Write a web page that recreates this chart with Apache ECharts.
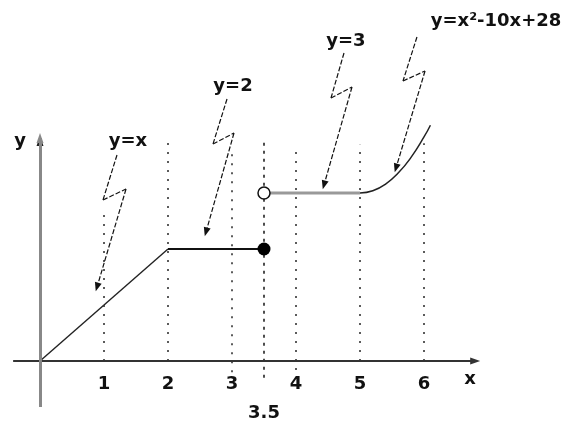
<!DOCTYPE html>
<html>
<head>
<meta charset="utf-8">
<script src="https://cdn.jsdelivr.net/npm/echarts@6/dist/echarts.min.js"></script>
<style>html,body{margin:0;padding:0;background:#fff}#c{width:569px;height:423px}</style>
</head>
<body>
<div id="c"></div>
<script>
// ---- data ----
const tickValues = [1, 2, 3, 3.5, 4, 5, 6];
const tickLabels = ['1', '2', '3', '3.5', '4', '5', '6'];
const lineXX = [0, 2];          // y = x
const lineXY = [0, 2];
const line2X = [2, 3.5];        // y = 2
const line2Y = [2, 2];
const line3X = [3.5, 5];        // y = 3
const line3Y = [3, 3];
const curveX = [5, 5.2, 5.4, 5.6, 5.8, 6.0, 6.1];   // y = x^2-10x+28
const curveY = [3, 3.04, 3.16, 3.36, 3.64, 4.0, 4.21];
const closedPt = [3.5, 2];
const openPt = [3.5, 3];
const guideX = [1, 2, 3, 3.5, 4, 5, 6];
const guideTop = [2.61, 3.91, 3.73, 3.95, 3.73, 3.86, 3.89];
const guideBottom = [0, 0, -0.2, -0.3, -0.16, 0, 0];
const labels = ['y=x', 'y=2', 'y=3', 'y=x²-10x+28'];

// ---- annotation layout (data units) ----
const labelPos = [[1.375, 3.93], [3.016, 4.91], [4.78, 5.71], [7.125, 6.07]];
const bolts = [
  [[1.203, 3.679], [0.984, 2.875], [1.344, 3.071], [0.891, 1.321]],
  [[2.922, 4.679], [2.703, 3.875], [3.031, 4.071], [2.594, 2.304]],
  [[4.75, 5.5], [4.547, 4.696], [4.875, 4.893], [4.4375, 3.143]],
  [[5.89, 5.786], [5.672, 5.0], [6.016, 5.179], [5.5625, 3.446]]
];

const zip = (a, b) => a.map((v, i) => [v, b[i]]);
const FONT = 'DejaVu Sans';
const TXT = { fontFamily: FONT, fontSize: 18, fontWeight: 'bold', color: '#111',
  textBorderWidth: 0, textBorderColor: 'transparent' };

const boltLines = [];
bolts.forEach(b => {
  for (let i = 0; i < b.length - 1; i++) {
    const last = i === b.length - 2;
    boltLines.push([
      { coord: b[i], symbol: 'none' },
      { coord: b[i + 1], symbol: last ? 'triangle' : 'none', symbolSize: last ? [7, 9] : 0 }
    ]);
  }
});

const guideLines = guideX.map((x, i) => [
  { coord: [x, guideBottom[i]], lineStyle: x === 3.5 ? { type: [3, 5], color: '#222' } : undefined },
  { coord: [x, guideTop[i]] }
]);

const txtSeries = (data) => ({
  type: 'scatter', symbolSize: 0, silent: true, z: 6,
  itemStyle: { color: 'transparent', opacity: 1 },
  data: data,
  label: Object.assign({ show: true, position: 'inside', formatter: p => p.name }, TXT)
});

const chart = echarts.init(document.getElementById('c'), null, { renderer: 'canvas' });
chart.setOption({
  animation: false,
  backgroundColor: '#fff',
  grid: { left: 0, right: 0, top: 0, bottom: 0, containLabel: false, outerBoundsMode: 'none' },
  xAxis: {
    type: 'value', min: -0.625, max: 8.265625,
    axisLine: { show: false }, axisTick: { show: false },
    splitLine: { show: false }, axisLabel: { show: false }
  },
  yAxis: {
    type: 'value', min: -1.107, max: 6.446,
    axisLine: { show: false }, axisTick: { show: false },
    splitLine: { show: false }, axisLabel: { show: false }
  },
  series: [
    { // guides
      type: 'line', data: [], silent: true, z: 1,
      markLine: {
        silent: true, symbol: ['none', 'none'], label: { show: false },
        lineStyle: { type: [2, 7], color: '#333', width: 1.6 },
        emphasis: { disabled: true },
        data: guideLines
      }
    },
    { // axes
      type: 'line', data: [], silent: true, z: 2,
      markLine: {
        silent: true, label: { show: false }, emphasis: { disabled: true },
        symbol: ['none', 'triangle'], symbolSize: [7, 10],
        data: [
          [{ coord: [-0.42, 0], lineStyle: { color: '#333', width: 2, type: 'solid' } }, { coord: [6.8, 0] }],
          [{ coord: [0, -0.82], lineStyle: { color: '#888', width: 3, type: 'solid' } }, { coord: [0, 3.98] }]
        ]
      }
    },
    { // y-axis arrow head (dark)
      type: 'scatter', data: [[0, 3.93]], symbol: 'triangle', symbolSize: [7, 10], silent: true, z: 3,
      itemStyle: { color: '#222', opacity: 1 }
    },
    { type: 'line', data: zip(lineXX, lineXY), symbol: 'none', z: 3,
      lineStyle: { color: '#222', width: 1.4 } },
    { type: 'line', data: zip(line2X, line2Y), symbol: 'none', z: 3,
      lineStyle: { color: '#111', width: 1.8 } },
    { type: 'line', data: zip(line3X, line3Y), symbol: 'none', z: 3,
      lineStyle: { color: '#999', width: 3 } },
    { type: 'line', data: zip(curveX, curveY), symbol: 'none', smooth: true, z: 3,
      lineStyle: { color: '#222', width: 1.5 } },
    { type: 'scatter', data: [closedPt], symbol: 'circle', symbolSize: 13, z: 5,
      itemStyle: { color: '#000', opacity: 1 } },
    { type: 'scatter', data: [openPt], symbol: 'circle', symbolSize: 12, z: 5,
      itemStyle: { color: '#fff', borderColor: '#111', borderWidth: 1.5, opacity: 1 } },
    { // lightning arrows
      type: 'line', data: [], silent: true, z: 4,
      markLine: {
        silent: true, label: { show: false }, emphasis: { disabled: true },
        symbol: ['none', 'none'],
        lineStyle: { type: [5, 2], color: '#111', width: 1.2 },
        data: boltLines
      }
    },
    txtSeries(tickValues.map((v, i) => ({
      value: [v, 0], name: tickLabels[i],
      label: { offset: [0, v === 3.5 ? 52 : 23] }
    }))),
    txtSeries(labels.map((t, i) => ({ value: labelPos[i], name: t }))),
    txtSeries([{ value: [6.72, -0.32], name: 'x' }, { value: [-0.3125, 3.93], name: 'y' }])
  ]
});
</script>
</body>
</html>
